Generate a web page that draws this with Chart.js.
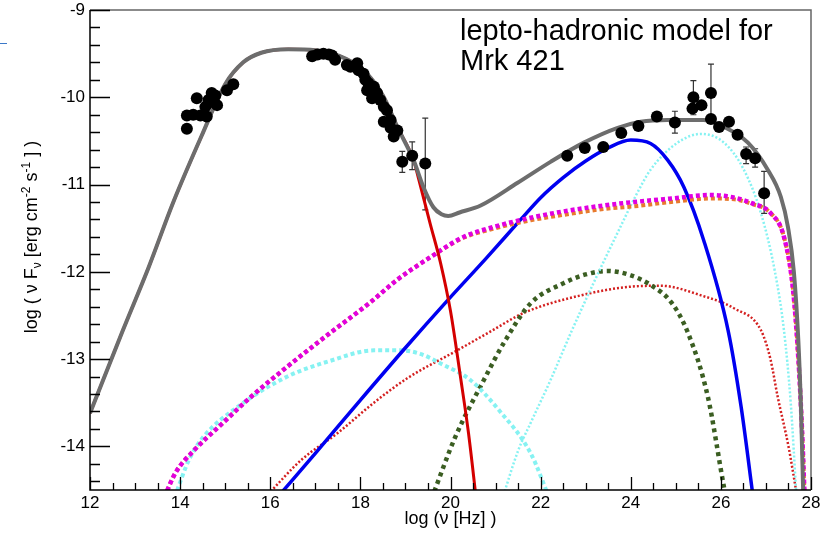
<!DOCTYPE html>
<html>
<head>
<meta charset="utf-8">
<title>Mrk 421 SED</title>
<script src="https://cdn.jsdelivr.net/npm/chart.js@4.4.1/dist/chart.umd.min.js"></script>
<style>
  html, body { margin: 0; padding: 0; background: #fff; overflow: hidden; }
  canvas { display: block; }
</style>
</head>
<body>
<canvas id="sed" width="831" height="533"></canvas>
<script>
// log(nu) / log(nu F_nu) pairs for each model component

// total model (grey)
const totalX = [12, 12.73, 13.3, 13.85, 14.47, 15.0, 15.4, 15.8, 16.4, 17.0, 17.5, 18.07, 18.5, 18.82, 19.18, 19.4, 19.62, 19.8, 19.95, 20.2, 20.67, 21.49, 22.22, 22.96, 23.71, 24.22, 24.82, 25.62, 26.07, 26.6, 27.04, 27.33, 27.49, 27.62, 27.72, 27.78, 27.83];
const totalY = [-13.62, -12.67, -11.95, -11.2, -10.45, -9.85, -9.6, -9.49, -9.45, -9.46, -9.52, -9.69, -9.98, -10.34, -10.72, -11.03, -11.26, -11.34, -11.36, -11.32, -11.24, -10.98, -10.74, -10.52, -10.35, -10.28, -10.26, -10.26, -10.34, -10.52, -10.83, -11.14, -11.49, -12.0, -12.8, -13.6, -14.6];

// primary electron synchrotron (red)
const synX = [12, 12.73, 13.3, 13.85, 14.47, 15.0, 15.4, 15.8, 16.4, 17.0, 17.5, 18.07, 18.5, 18.82, 19.18, 19.3, 19.55, 19.78, 20.0, 20.22, 20.4, 20.57];
const synY = [-13.62, -12.67, -11.95, -11.2, -10.45, -9.85, -9.6, -9.49, -9.45, -9.46, -9.52, -9.69, -9.98, -10.34, -10.72, -10.95, -11.45, -11.9, -12.45, -13.2, -13.85, -14.6];

// synchrotron self-Compton (blue)
const sscX = [16.2, 17.0, 18.0, 19.0, 19.93, 20.8, 21.56, 22.0, 22.5, 23.0, 23.5, 24.0, 24.44, 24.82, 25.18, 25.62, 26.16, 26.45, 26.72];
const sscY = [-14.56, -14.08, -13.47, -12.87, -12.33, -11.84, -11.4, -11.15, -10.92, -10.73, -10.58, -10.49, -10.53, -10.72, -11.03, -11.64, -12.67, -13.55, -14.6];

// pair cascade (magenta) and its orange companion
const cascX = [13.65, 13.9, 14.3, 14.89, 15.6, 16.37, 17.33, 18.22, 18.82, 19.5, 20.29, 21.0, 21.78, 22.6, 23.4, 24.07, 24.9, 25.78, 26.3, 26.67, 27.11, 27.4, 27.6, 27.72, 27.8, 27.86];
const cascY = [-14.58, -14.3, -14.05, -13.76, -13.42, -13.09, -12.7, -12.35, -12.09, -11.85, -11.6, -11.48, -11.38, -11.3, -11.24, -11.2, -11.16, -11.12, -11.15, -11.21, -11.33, -11.6, -12.2, -13.0, -13.8, -14.6];
const orangeY = [-14.58, -14.3, -14.05, -13.76, -13.42, -13.09, -12.7, -12.35, -12.09, -11.85, -11.61, -11.5, -11.41, -11.34, -11.28, -11.25, -11.2, -11.16, -11.17, -11.22, -11.33, -11.6, -12.2, -13.0, -13.8, -14.6];

// cyan thick: low-energy hump
const lowCyanX = [13.88, 14.2, 14.52, 15.27, 16.38, 17.33, 18.3, 18.9, 19.33, 19.78, 20.44, 21.1, 21.78, 22.2];
const lowCyanY = [-14.58, -14.15, -13.89, -13.55, -13.2, -13.02, -12.9, -12.9, -12.94, -13.05, -13.24, -13.6, -14.08, -14.6];

// cyan fine dots: proton synchrotron
const protonX = [21.15, 21.5, 21.78, 22.22, 22.67, 23.2, 23.71, 24.1, 24.44, 25.04, 25.56, 26.07, 26.51, 26.89, 27.2, 27.4, 27.55, 27.68];
const protonY = [-14.6, -14.05, -13.73, -13.24, -12.7, -12.1, -11.55, -11.14, -10.83, -10.52, -10.42, -10.52, -10.83, -11.33, -12.0, -12.67, -13.5, -14.6];

// dark green dashes
const greenX = [19.58, 20.1, 20.74, 21.2, 21.78, 22.51, 23.0, 23.49, 24.0, 24.44, 24.9, 25.27, 25.71, 26.07, 26.12];
const greenY = [-14.6, -13.9, -13.24, -12.8, -12.36, -12.13, -12.03, -11.99, -12.04, -12.15, -12.35, -12.7, -13.43, -14.47, -14.6];

// red fine dots
const redDotX = [15.95, 16.7, 17.49, 18.3, 19.04, 20.15, 20.9, 21.63, 22.89, 24.0, 24.67, 25.56, 26.3, 26.89, 27.1, 27.26, 27.5, 27.7];
const redDotY = [-14.55, -14.15, -13.85, -13.5, -13.22, -12.9, -12.68, -12.47, -12.27, -12.17, -12.16, -12.27, -12.42, -12.67, -13.0, -13.43, -14.0, -14.6];

// measurements (optical/UV, X-ray, gamma-ray)
const obsX = [14.15, 14.15, 14.29, 14.45, 14.37, 14.56, 14.59, 14.63, 14.70, 14.75, 14.82, 14.78, 15.04, 15.18,
  16.93, 17.05, 17.18, 17.30, 17.37, 17.44, 17.70, 17.78, 17.93, 17.96, 18.07, 18.11, 18.18, 18.15, 18.30, 18.37, 18.26, 18.44, 18.52, 18.59, 18.52, 18.67, 18.67, 18.82, 18.74,
  18.93, 19.15, 19.44,
  22.59, 22.98, 23.39, 23.79, 24.17, 24.58, 24.98, 25.37, 25.39, 25.57, 25.78, 25.78, 25.96, 26.18, 26.37, 26.56, 26.76, 26.96];
const obsY = [-10.36, -10.21, -10.20, -10.21, -10.01, -10.11, -10.22, -10.03, -9.95, -10.06, -10.09, -9.98, -9.92, -9.85,
  -9.53, -9.51, -9.50, -9.51, -9.52, -9.57, -9.63, -9.65, -9.61, -9.69, -9.73, -9.80, -9.84, -9.92, -9.88, -9.95, -10.01, -10.03, -10.11, -10.15, -10.28, -10.26, -10.35, -10.38, -10.45,
  -10.74, -10.67, -10.76,
  -10.67, -10.58, -10.57, -10.41, -10.33, -10.22, -10.29, -10.13, -10.00, -10.09, -9.95, -10.25, -10.34, -10.28, -10.43, -10.65, -10.70, -11.10];
const _ = null;
const errLow = [_, _, _, _, _, _, _, _, _, _, _, _, _, _,
  _, _, _, _, _, _, _, _, _, _, _, _, _, _, _, _, _, _, _, _, _, _, _, _, _,
  -10.86, -10.83, -11.29,
  _, _, _, _, _, _, -10.41, _, -10.20, _, -10.26, _, _, _, _, -10.76, -10.80, -11.33];
const errHigh = [_, _, _, _, _, _, _, _, _, _, _, _, _, _,
  _, _, _, _, _, _, _, _, _, _, _, _, _, _, _, _, _, _, _, _, _, _, _, _, _,
  -10.62, -10.51, -10.24,
  _, _, _, _, _, _, -10.16, _, -9.81, _, -9.62, _, _, _, _, -10.57, -10.59, -10.85];

// axis range
const xRange = [12, 28];
const yRange = [-14.5, -9];

const pts = (xs, ys) => xs.map((v, i) => ({ x: v, y: ys[i] }));

function curve(xs, ys, color, width, dash) {
  return {
    data: pts(xs, ys),
    borderColor: color,
    borderWidth: width,
    borderDash: dash || [],
    borderCapStyle: 'butt',
    pointRadius: 0,
    fill: false,
    cubicInterpolationMode: 'monotone'
  };
}

Chart.defaults.font.family = "'Liberation Sans', Arial, Helvetica, sans-serif";
Chart.defaults.color = '#000';

// frame, inward ticks, error bars, y title and caption
const sedDecor = {
  id: 'sedDecor',
  beforeDatasetsDraw(chart) {
    const { ctx, scales: { x, y } } = chart;
    ctx.save();
    ctx.strokeStyle = '#333';
    ctx.lineWidth = 1.2;
    obsX.forEach((v, i) => {
      if (errLow[i] == null) return;
      const px = x.getPixelForValue(v);
      const y0 = y.getPixelForValue(errLow[i]);
      const y1 = y.getPixelForValue(errHigh[i]);
      ctx.beginPath();
      ctx.moveTo(px, y0); ctx.lineTo(px, y1);
      ctx.moveTo(px - 3, y0); ctx.lineTo(px + 3, y0);
      ctx.moveTo(px - 3, y1); ctx.lineTo(px + 3, y1);
      ctx.stroke();
    });
    ctx.restore();
  },
  afterDraw(chart) {
    const { ctx, chartArea: a, scales: { x, y } } = chart;
    ctx.save();

    // box
    ctx.lineWidth = 1.5;
    ctx.strokeStyle = '#666';
    ctx.beginPath();
    ctx.moveTo(a.left, a.top); ctx.lineTo(a.right, a.top); ctx.lineTo(a.right, a.bottom);
    ctx.stroke();
    ctx.strokeStyle = '#000';
    ctx.beginPath();
    ctx.moveTo(a.left, a.top); ctx.lineTo(a.left, a.bottom); ctx.lineTo(a.right, a.bottom);
    ctx.stroke();

    // ticks pointing into the plot
    ctx.lineWidth = 1.3;
    ctx.beginPath();
    for (let k = 0; k <= 32; k++) {
      const px = Math.round(x.getPixelForValue(xRange[0] + k * 0.5)) + 0.5;
      const len = k % 4 === 0 ? 13 : 7;
      ctx.moveTo(px, a.bottom); ctx.lineTo(px, a.bottom - len);
    }
    for (let k = 0; k <= 27; k++) {
      const v = -14.4 + k * 0.2;
      const py = Math.round(y.getPixelForValue(v)) + 0.5;
      const major = Math.abs(v - Math.round(v)) < 1e-6;
      ctx.moveTo(a.left, py); ctx.lineTo(a.left + (major ? 20 : 10), py);
    }
    ctx.stroke();

    // y axis title with sub/superscripts
    const parts = [['log ( ν F', 0], ['ν', 1], [' [erg cm', 0], ['-2', -1], [' s', 0], ['-1', -1], [' ] )', 0]];
    const fam = Chart.defaults.font.family;
    const fontFor = s => (s === 0 ? '18px ' : '12px ') + fam;
    let total = 0;
    parts.forEach(p => { ctx.font = fontFor(p[1]); total += ctx.measureText(p[0]).width; });
    ctx.translate(37, 237);
    ctx.rotate(-Math.PI / 2);
    ctx.fillStyle = '#000';
    ctx.textBaseline = 'alphabetic';
    ctx.textAlign = 'left';
    let cx = -total / 2;
    parts.forEach(p => {
      ctx.font = fontFor(p[1]);
      const dy = p[1] === 1 ? 4 : (p[1] === -1 ? -7 : 0);
      ctx.fillText(p[0], cx, dy);
      cx += ctx.measureText(p[0]).width;
    });
    ctx.setTransform(1, 0, 0, 1, 0, 0);

    // caption
    ctx.font = '29px ' + fam;
    ctx.fillText('lepto-hadronic model for', 460, 40);
    ctx.fillText('Mrk 421', 460, 70);

    // stray rule at the left edge
    ctx.strokeStyle = '#3b78c8';
    ctx.lineWidth = 1;
    ctx.beginPath();
    ctx.moveTo(0, 43.5); ctx.lineTo(7, 43.5);
    ctx.stroke();

    ctx.restore();
  }
};

new Chart(document.getElementById('sed'), {
  type: 'line',
  data: {
    datasets: [
      {
        data: pts(obsX, obsY),
        showLine: false,
        pointRadius: 6,
        pointBackgroundColor: '#000',
        pointBorderColor: '#000',
        pointBorderWidth: 0
      },
      curve(totalX, totalY, '#6d6d6d', 4),
      curve(synX, synY, '#d40000', 3),
      curve(cascX, cascY, '#e100e1', 4.5, [4, 3]),
      curve(cascX, orangeY, '#e87a2e', 4, [4, 3]),
      curve(sscX, sscY, '#0000f0', 3.5),
      curve(protonX, protonY, '#86f2f2', 2.5, [2, 2]),
      curve(lowCyanX, lowCyanY, '#86f2f2', 4, [4, 3]),
      curve(greenX, greenY, '#3b5e22', 4.5, [4, 4]),
      curve(redDotX, redDotY, '#d42020', 2.5, [2, 2])
    ]
  },
  options: {
    responsive: false,
    animation: false,
    layout: { padding: { top: 10, right: 20, left: 0, bottom: 0 } },
    plugins: { legend: { display: false }, tooltip: { enabled: false } },
    scales: {
      x: {
        type: 'linear',
        min: xRange[0],
        max: xRange[1],
        grid: { display: false, drawTicks: false },
        border: { display: false },
        ticks: { stepSize: 2, font: { size: 17 }, color: '#000', padding: 3, maxRotation: 0 },
        title: { display: true, text: 'log (ν [Hz] )', font: { size: 18 }, color: '#000', padding: { top: 0, bottom: 3 } },
        afterFit: s => { s.height = 43; s.paddingLeft = 0; s.paddingRight = 0; }
      },
      y: {
        type: 'linear',
        min: yRange[0],
        max: yRange[1],
        grid: { display: false, drawTicks: false },
        border: { display: false },
        ticks: { stepSize: 1, font: { size: 17 }, color: '#000', padding: 5 },
        afterBuildTicks: s => { s.ticks = s.ticks.filter(t => Number.isInteger(t.value)); },
        afterFit: s => { s.width = 90; s.paddingTop = 0; s.paddingBottom = 0; }
      }
    }
  },
  plugins: [sedDecor]
});
</script>
</body>
</html>
